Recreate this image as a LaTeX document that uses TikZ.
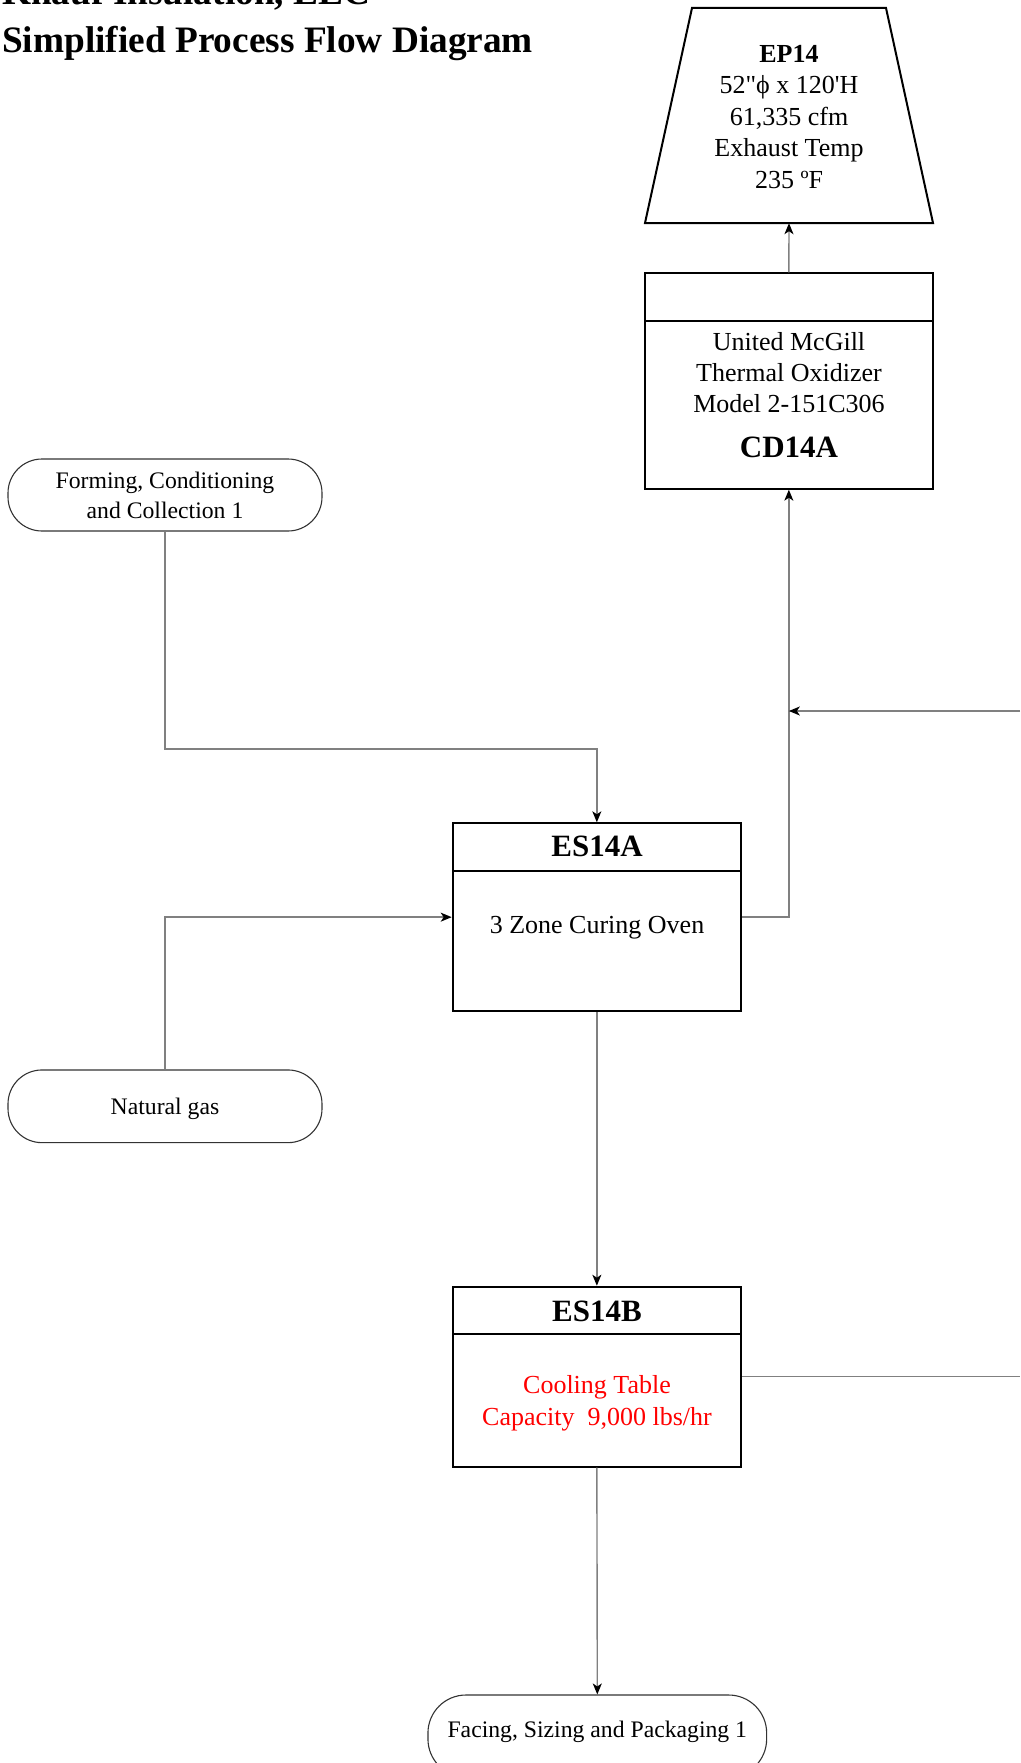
\documentclass[tikz,border=0pt]{standalone}
\usepackage{fontspec}
\setmainfont{Liberation Serif}
\newfontfamily\qfont{Liberation Serif}
\usetikzlibrary{arrows.meta}
\definecolor{conngray}{HTML}{808080}
\begin{document}
\begin{tikzpicture}[x=1pt,y=-1pt,
  box/.style={draw=black,line width=2pt,inner sep=0pt},
  stad/.style={draw=black!80,line width=1.1pt,inner sep=0pt},
  conn/.style={draw=conngray,line width=1.4pt},
  arr/.style={conn,-{Stealth[length=11pt,width=9pt,inset=3pt,color=black]}},
  body/.style={anchor=base,inner sep=0pt,font=\fontsize{26}{31}\selectfont},
  bodyb/.style={body,font=\fontsize{26}{31}\selectfont\bfseries},
  head/.style={anchor=base,inner sep=0pt,font=\fontsize{31}{37}\selectfont\bfseries},
  small/.style={anchor=base,inner sep=0pt,font=\fontsize{23.7}{28}\selectfont},
  title/.style={anchor=base west,inner sep=0pt,font=\fontsize{37.3}{44}\selectfont\bfseries}]
\useasboundingbox (0,0) rectangle (1020,1763);
\clip (0,0) rectangle (1020,1763);

% title
\node[title] (t1) at (2,5) {Knauf Insulation, LLC};
\node[title] (t2) at (2,53) {Simplified Process Flow Diagram};

% EP14 stack
\draw[line width=2pt] (692,8) -- (886,8) -- (933,223) -- (645,223) -- cycle;
\node[inner sep=0pt,minimum width=288pt,minimum height=215pt] (ep) at (789,115.5) {};
\node[bodyb] (ep1) at (789,62.5) {EP14};
\node[body] (ep2) at (789,94) {\qfont 52"ϕ x 120'H};
\node[body] (ep3) at (789,125.5) {61,335 cfm};
\node[body] (ep4) at (789,157) {Exhaust Temp};
\node[body] (ep5) at (789,188.5) {235 ºF};

% CD14A
\node[box,minimum width=287.7pt,minimum height=215.4pt] (cd) at (788.85,381) {};
\draw[line width=2pt] (645,321) -- (932.7,321);
\node[body] (cd1) at (789,350) {United McGill};
\node[body] (cd2) at (789,381.3) {Thermal Oxidizer};
\node[body] (cd3) at (789,412.6) {Model 2-151C306};
\node[head] (cd4) at (789,457.5) {CD14A};

% ES14A
\node[box,minimum width=288.3pt,minimum height=187.7pt] (es14a) at (596.85,917.15) {};
\draw[line width=2pt] (452.7,871) -- (741,871);
\node[head] (a1) at (597,856.7) {ES14A};
\node[body] (a2) at (597,933.3) {3 Zone Curing Oven};

% ES14B
\node[box,minimum width=288.3pt,minimum height=180pt] (es14b) at (596.85,1376.7) {};
\draw[line width=2pt] (452.7,1334) -- (741,1334);
\node[head] (b1) at (597,1321.7) {ES14B};
\node[body,text=red] (b2) at (597,1393.3) {Cooling Table};
\node[body,text=red] (b3) at (597,1425) {Capacity\ \ 9,000 lbs/hr};

% terminals
\node[stad,rounded corners=34pt,minimum width=314pt,minimum height=72pt] (forming) at (165,495) {};
\node[small] (f1) at (165,488) {Forming, Conditioning};
\node[small] (f2) at (165,518.5) {and Collection 1};

\node[stad,rounded corners=34pt,minimum width=314pt,minimum height=72.7pt] (natgas) at (165,1106.3) {};
\node[small] (n1) at (165,1114) {Natural gas};

\node[stad,rounded corners=38pt,minimum width=338.7pt,minimum height=82pt] (facing) at (597.3,1736) {};
\node[small] (p1) at (597.3,1737.5) {Facing, Sizing and Packaging 1};

% connectors
\draw[arr] (cd.north) -- (ep.south);
\coordinate (k1) at (596.85,749);
\draw[arr] (forming.south) |- (k1) -- (es14a.north);
\draw[arr] (natgas.north) |- (es14a.west);
\draw[arr] (es14a.east) -| (cd.south);
\draw[arr] (es14a.south) -- (es14b.north);
\draw[arr] (es14b.south) -- (facing.north);
\coordinate (rin) at (1020,711);
\coordinate (rj) at (788.85,711);
\draw[arr] (rin) -- (rj);
\coordinate (rout) at (1020,1376.7);
\draw[conn] (es14b.east) -- (rout);
\end{tikzpicture}
\end{document}
